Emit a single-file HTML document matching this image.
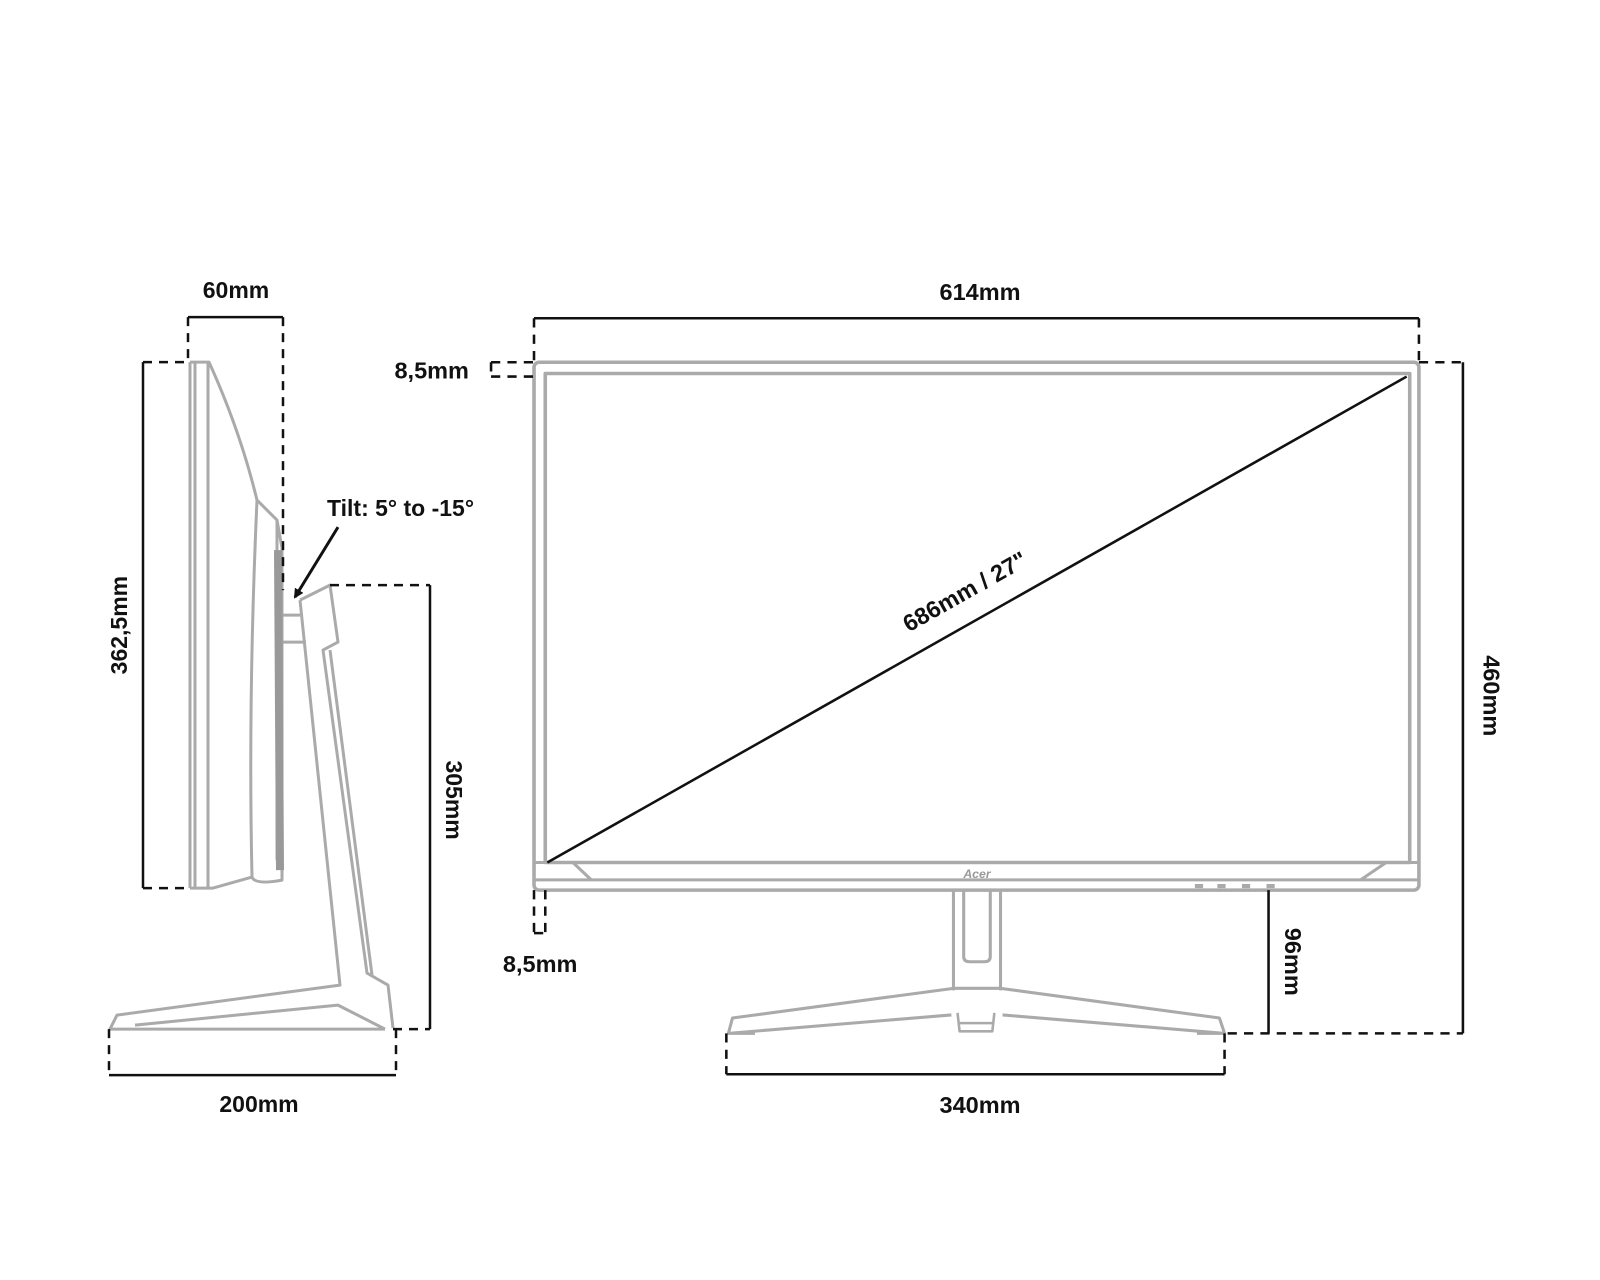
<!DOCTYPE html>
<html><head><meta charset="utf-8"><style>
html,body{margin:0;padding:0;background:#fff;}
svg{display:block}
text{font-family:"Liberation Sans",sans-serif;font-weight:bold;font-size:23px;fill:#111}
</style></head><body>
<svg width="1600" height="1280" viewBox="0 0 1564 1251" xmlns="http://www.w3.org/2000/svg">
<defs><marker id="ah" markerWidth="10" markerHeight="10" refX="8" refY="5" orient="auto" markerUnits="userSpaceOnUse"><path d="M0,0 L10,5 L0,10 z" fill="#111"/></marker></defs>
<!-- side view in actual coords -->
<g transform="scale(0.9775)">
 <g fill="none" stroke="#aaa" stroke-width="3" stroke-linejoin="round">
  <path d="M190,362 L190,888 M195,362 L195,888 M208,362 L208,888"/>
  <path d="M190,362 L209,362 Q240,430 257,500 L277,520 L282,548 L282,880 Q255,885 252,877 L213,888 L190,888"/>
  <path d="M257,500 Q248,700 252,877"/>
  <path d="M277,520 L277,860"/>
  <path d="M282,615 L300,615 M282,642 L306,642"/>
  <path d="M300,600 L330,585 L338,642 L323,650 L367,973 L388,985 L393,1028"/>
  <path d="M300,600 L340,985 L117,1015 L110,1029 L385,1029 M385,1029 L338,1005 L135,1025"/>
  <path d="M330,650 L372,975"/>
 </g>
 <path d="M278,550 L280,870" stroke="#999" stroke-width="8" fill="none"/>
 <g stroke="#111" stroke-width="2.5" fill="none">
  <path d="M188,317 L283,317 M143,362 L143,888 M430,585 L430,1029 M109,1075 L396,1075"/>
  <path d="M188,317 L188,362 M283,317 L283,590 M143,362 L188,362 M143,888 L188,888 M330,585 L430,585 M393,1029 L430,1029 M109,1029 L109,1075 M396,1029 L396,1075" stroke-dasharray="9,7"/>
  <path d="M338,527 L295,597" marker-end="url(#ah)" stroke-width="3"/>
 </g>
 <text x="236" y="298" text-anchor="middle">60mm</text>
 <text x="327" y="516">Tilt: 5° to -15°</text>
 <text x="259" y="1112" text-anchor="middle">200mm</text>
 <text transform="translate(127,625) rotate(-90)" text-anchor="middle">362,5mm</text>
 <text transform="translate(446,800) rotate(90)" text-anchor="middle">305mm</text>
</g>
<!-- front view displayed coords -->
<g fill="none" stroke="#aaa" stroke-width="3.5" stroke-linejoin="round">
 <rect x="522" y="354" width="865" height="516" rx="5"/>
 <rect x="533" y="365" width="845" height="478"/>
 <path d="M522,843 L1387,843 M560,843 L578,860 L1330,860 L1355,843 M522,860 L1387,860" stroke-width="3"/>
 <path d="M932,870 L932,968 M978,870 L978,968 M942,870 L942,935 Q942,940 948,940 L962,940 Q968,940 968,935 L968,870" stroke-width="3"/>
 <path d="M932,966 L716,995 L712,1010 L930,992 M978,966 L1192,995 L1197,1010 L980,992 M932,966 L978,966 M738,1010 L712,1010 M1170,1010 L1197,1010" stroke-width="3"/>
 <path d="M936,990 L938,1008 L970,1008 L972,990 M938,1000 L970,1000" stroke-width="2.5"/>
</g>
<path d="M1168,866 L1176,866 M1190,866 L1198,866 M1214,866 L1222,866 M1238,866 L1246,866" stroke="#aaa" stroke-width="4"/>
<text x="955" y="858" text-anchor="middle" style="font-size:12px;font-style:italic;fill:#999">Acer</text>
<g stroke="#111" stroke-width="2.5" fill="none">
 <path d="M535,843 L1375,368"/>
 <path d="M522,311 L1387,311 M1430,354 L1430,1010 M1240,870 L1240,1010 M710,1050 L1197,1050"/>
 <path d="M522,311 L522,354 M1387,311 L1387,354 M1387,354 L1430,354 M1200,1010 L1430,1010 M710,1010 L710,1050 M1197,1010 L1197,1050 M480,354 L522,354 M480,368 L522,368 M480,354 L480,368 M522,870 L522,912 M533,870 L533,912 M522,912 L533,912" stroke-dasharray="9,7"/>
</g>
<text x="958" y="293" text-anchor="middle">614mm</text>
<text x="422" y="370" text-anchor="middle">8,5mm</text>
<text x="528" y="950" text-anchor="middle">8,5mm</text>
<text x="958" y="1088" text-anchor="middle">340mm</text>
<text transform="translate(947,585) rotate(-29.5)" text-anchor="middle">686mm / 27"</text>
<text transform="translate(1450,680) rotate(90)" text-anchor="middle">460mm</text>
<text transform="translate(1256,940) rotate(90)" text-anchor="middle">96mm</text>
</svg>
</body></html>
